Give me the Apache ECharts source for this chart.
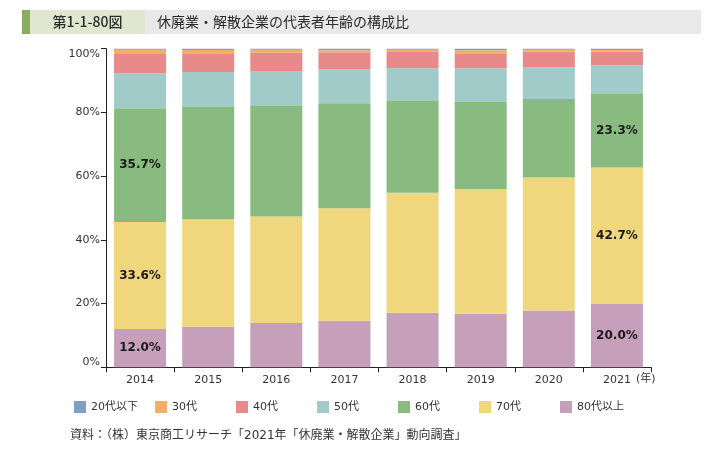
<!DOCTYPE html>
<html>
<head>
<meta charset="utf-8">
<script src="https://cdn.jsdelivr.net/npm/echarts@6/dist/echarts.min.js"></script>
<style>
html,body{margin:0;padding:0;background:#fff;}
#c{width:720px;height:451px;}
</style>
</head>
<body>
<div id="c"></div>
<script>
// ---- data ----
const years = ['2014','2015','2016','2017','2018','2019','2020','2021'];
const seriesNames = ['20代以下','30代','40代','50代','60代','70代','80代以上'];
const age20 = [0.3, 0.4, 0.3, 0.5, 0.3, 0.5, 0.3, 0.4];
const age30 = [1.4, 1.3, 1.0, 0.6, 0.7, 0.9, 0.6, 0.5];
const age40 = [6.0, 5.6, 5.7, 5.4, 5.1, 4.7, 4.9, 4.3];
const age50 = [11.0, 10.8, 11.0, 10.6, 10.1, 10.6, 10.0, 8.8];
const age60 = [35.7, 35.4, 34.7, 33.0, 29.0, 27.3, 24.6, 23.3];
const age70 = [33.6, 33.8, 33.4, 35.3, 37.7, 39.2, 41.8, 42.7];
const age80 = [12.0, 12.7, 13.9, 14.6, 17.1, 16.8, 17.8, 20.0];
const yTicks = [0, 20, 40, 60, 80, 100];
const labeledYears = ['2014', '2021'];
const labeledSeries = ['60代', '70代', '80代以上'];
const titleNo = '第1-1-80図';
const titleText = '休廃業・解散企業の代表者年齢の構成比';
const sourceText = '資料：（株）東京商工リサーチ「2021年「休廃業・解散企業」動向調査」';
const yearUnit = '(年)';

// ---- styling ----
const colors = {
  '20代以下': '#7f9ec3',
  '30代': '#f5ae68',
  '40代': '#e8898a',
  '50代': '#a1cbc8',
  '60代': '#89bb81',
  '70代': '#f0d77d',
  '80代以上': '#c69fba'
};
const FONT = "'DejaVu Sans', 'Noto Sans CJK JP', sans-serif";
const valuesByName = {
  '20代以下': age20, '30代': age30, '40代': age40, '50代': age50,
  '60代': age60, '70代': age70, '80代以上': age80
};
// stacking order: bottom first
const stackOrder = ['80代以上','70代','60代','50代','40代','30代','20代以下'];

const series = stackOrder.map(name => ({
  name: name,
  type: 'bar',
  stack: 'total',
  barWidth: 52,
  itemStyle: { color: colors[name] },
  emphasis: { disabled: true },
  label: {
    show: false,
    position: 'inside',
    fontFamily: FONT,
    fontSize: 12,
    fontWeight: 'bold',
    color: '#1a1a1a',
    formatter: p => p.value.toFixed(1) + '%'
  },
  data: valuesByName[name].map((v, i) => {
    const show = labeledSeries.includes(name) && labeledYears.includes(years[i]);
    return show ? { value: v, label: { show: true } } : v;
  })
}));

const legends = seriesNames.map((name, i) => ({
  data: [name],
  left: 69 + i * 81,
  top: 396,
  itemWidth: 12,
  itemHeight: 12,
  itemGap: 0,
  icon: 'rect',
  selectedMode: false,
  textStyle: { fontFamily: FONT, fontSize: 11, color: '#333' }
}));

const chart = echarts.init(document.getElementById('c'), null, { renderer: 'canvas' });
chart.setOption({
  animation: false,
  backgroundColor: '#fff',
  color: seriesNames.map(n => colors[n]),
  grid: { left: 106, right: 69, top: 48.7, bottom: 83.7, containLabel: false },
  legend: legends,
  xAxis: {
    type: 'category',
    data: years,
    axisLine: { lineStyle: { color: '#222', width: 1 } },
    axisTick: { show: true, length: 5, lineStyle: { color: '#222' } },
    axisLabel: { fontFamily: FONT, fontSize: 11, color: '#333', margin: 7 }
  },
  yAxis: {
    type: 'value',
    min: yTicks[0],
    max: yTicks[yTicks.length - 1],
    interval: yTicks[1] - yTicks[0],
    splitLine: { show: false },
    axisLine: { show: true, lineStyle: { color: '#222', width: 1 } },
    axisTick: { show: true, length: 5, lineStyle: { color: '#222' } },
    axisLabel: {
      fontFamily: FONT, fontSize: 11, color: '#333', margin: 6,
      formatter: '{value}%',
      verticalAlignMinLabel: 'bottom',
      verticalAlignMaxLabel: 'top'
    }
  },
  graphic: [
    { type: 'rect', shape: { x: 22, y: 10, width: 8, height: 24 }, style: { fill: '#8aad62' }, silent: true },
    { type: 'rect', shape: { x: 30, y: 10, width: 115, height: 24 }, style: { fill: '#dfe7cf' }, silent: true },
    { type: 'rect', shape: { x: 145, y: 10, width: 556, height: 24 }, style: { fill: '#e9e9ea' }, silent: true },
    { type: 'text', x: 87.5, y: 22, silent: true,
      style: { text: titleNo, fontFamily: "'Noto Sans CJK JP', sans-serif", fontSize: 14, fontWeight: 500, fill: '#2a2a2a', align: 'center', verticalAlign: 'middle' } },
    { type: 'text', x: 157, y: 22, silent: true,
      style: { text: titleText, fontFamily: "'Noto Sans CJK JP', sans-serif", fontSize: 14, fill: '#2a2a2a', align: 'left', verticalAlign: 'middle' } },
    { type: 'text', x: 636, y: 379, silent: true,
      style: { text: yearUnit, fontFamily: FONT, fontSize: 11, fill: '#333', align: 'left', verticalAlign: 'middle' } },
    { type: 'text', x: 70, y: 436, silent: true,
      style: { text: sourceText, fontFamily: FONT, fontSize: 12, fill: '#333', align: 'left', verticalAlign: 'middle' } }
  ],
  series: series
});
</script>
</body>
</html>
